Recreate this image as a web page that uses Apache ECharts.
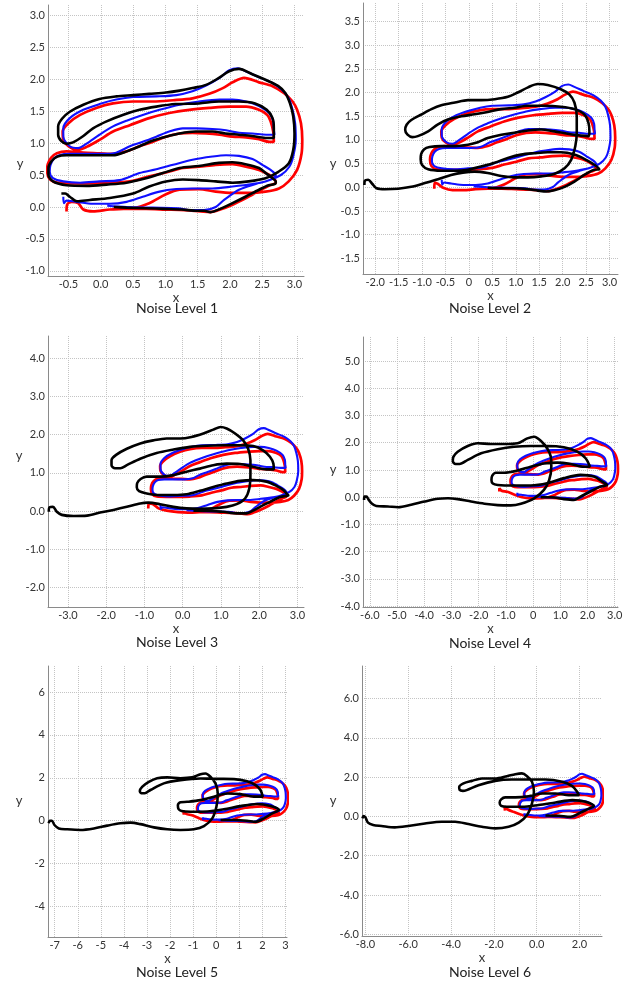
<!DOCTYPE html>
<html>
<head>
<meta charset="utf-8">
<script src="https://cdn.jsdelivr.net/npm/echarts@6/dist/echarts.min.js"></script>
<style>
html,body{margin:0;padding:0;background:#fff;}
#chart{width:635px;height:982px;}
</style>
</head>
<body>
<div id="chart"></div>
<script>
// ---------- tick values and labels ----------
const xTicks1 = [-0.5,0,0.5,1,1.5,2,2.5,3];
const xLabels1 = ['-0.5','0.0','0.5','1.0','1.5','2.0','2.5','3.0'];
const yTicks1 = [-1,-0.5,0,0.5,1,1.5,2,2.5,3];
const yLabels1 = ['-1.0','-0.5','0.0','0.5','1.0','1.5','2.0','2.5','3.0'];

const xTicks2 = [-2,-1.5,-1,-0.5,0,0.5,1,1.5,2,2.5,3];
const xLabels2 = ['-2.0','-1.5','-1.0','-0.5','0','0.5','1.0','1.5','2.0','2.5','3.0'];
const yTicks2 = [-1.5,-1,-0.5,0,0.5,1,1.5,2,2.5,3,3.5];
const yLabels2 = ['-1.5','-1.0','-0.5','0.0','0.5','1.0','1.5','2.0','2.5','3.0','3.5'];

const xTicks3 = [-3,-2,-1,0,1,2,3];
const xLabels3 = ['-3.0','-2.0','-1.0','0.0','1.0','2.0','3.0'];
const yTicks3 = [-2,-1,0,1,2,3,4];
const yLabels3 = ['-2.0','-1.0','0.0','1.0','2.0','3.0','4.0'];

const xTicks4 = [-6,-5,-4,-3,-2,-1,0,1,2,3];
const xLabels4 = ['-6.0','-5.0','-4.0','-3.0','-2.0','-1.0','0','1.0','2.0','3.0'];
const yTicks4 = [-4,-3,-2,-1,0,1,2,3,4,5];
const yLabels4 = ['-4.0','-3.0','-2.0','-1.0','0.0','1.0','2.0','3.0','4.0','5.0'];

const xTicks5 = [-7,-6,-5,-4,-3,-2,-1,0,1,2,3];
const xLabels5 = ['-7','-6','-5','-4','-3','-2','-1','0','1','2','3'];
const yTicks5 = [-4,-2,0,2,4,6];
const yLabels5 = ['-4','-2','0','2','4','6'];

const xTicks6 = [-8,-6,-4,-2,0,2];
const xLabels6 = ['-8.0','-6.0','-4.0','-2.0','0.0','2.0'];
const yTicks6 = [-6,-4,-2,0,2,4,6];
const yLabels6 = ['-6.0','-4.0','-2.0','0.0','2.0','4.0','6.0'];

const titles = ['Noise Level 1','Noise Level 2','Noise Level 3','Noise Level 4','Noise Level 5','Noise Level 6'];

// ---------- blue trajectory (shared) ----------
const blueTrack = [
[-0.58,0.16],[-0.57,0.06],[-0.53,0.1],[-0.38,0.08],[-0.12,0.05],[0.14,0.05],[0.4,0.08],[0.65,0.16],[0.91,0.24],[1.17,0.28],[1.42,0.29],[1.73,0.29],[2.04,0.32],[2.35,0.36],[2.55,0.4],[2.79,0.5],[2.92,0.63],[2.98,0.79],[3.02,1.05],[3.01,1.31],[2.97,1.52],[2.91,1.7],[2.81,1.83],[2.66,1.94],[2.45,2.03],[2.25,2.12],[2.12,2.17],[1.99,2.14],[1.84,2.02],[1.63,1.9],[1.42,1.81],[1.17,1.75],[0.86,1.73],[0.5,1.72],[0.24,1.68],[-0.02,1.61],[-0.27,1.52],[-0.48,1.39],[-0.58,1.23],[-0.58,1.1],[-0.48,0.95],[-0.35,0.92],[-0.22,0.99],[-0.02,1.13],[0.19,1.26],[0.4,1.35],[0.65,1.44],[0.91,1.52],[1.22,1.6],[1.52,1.65],[1.84,1.68],[2.04,1.68],[2.25,1.65],[2.45,1.58],[2.61,1.47],[2.67,1.34],[2.68,1.21],[2.69,1.13],[2.56,1.13],[2.35,1.15],[2.14,1.16],[1.94,1.2],[1.73,1.22],[1.48,1.23],[1.27,1.23],[1.06,1.18],[0.86,1.1],[0.65,1.02],[0.45,0.95],[0.24,0.85],[0.04,0.83],[-0.22,0.83],[-0.48,0.83],[-0.64,0.81],[-0.73,0.75],[-0.78,0.65],[-0.79,0.55],[-0.74,0.45],[-0.58,0.4],[-0.32,0.38],[-0.02,0.4],[0.29,0.42],[0.6,0.53],[0.86,0.59],[1.12,0.66],[1.42,0.74],[1.73,0.79],[1.94,0.81],[2.14,0.8],[2.35,0.75],[2.5,0.66],[2.63,0.58],[2.71,0.5],[2.61,0.42],[2.4,0.36],[2.14,0.27],[1.91,0.11],[1.78,0.0],[1.6,-0.05],[1.4,-0.05],[1.2,-0.02],[0.8,-0.01],[0.4,0.0],[0.1,0.02]
];

// ---------- red trajectory: per-panel start + shared loop ----------
const redStart1 = [[-0.53,-0.07],[-0.52,0.04],[-0.45,0.08],[-0.35,0.06],[-0.27,-0.04],[-0.12,-0.07]];
const redStart2 = [[-0.74,-0.03],[-0.73,0.1],[-0.66,0.07],[-0.55,-0.01],[-0.35,-0.06],[-0.12,-0.06]];
const redStart3 = [[-0.9,0.07],[-0.88,0.2],[-0.77,0.18],[-0.63,0.07],[-0.42,0.01],[-0.12,-0.03]];
const redStart4 = [[-1.24,0.21],[-1.24,0.33],[-1.16,0.24],[-0.95,0.2],[-0.7,0.1],[-0.4,0.0],[-0.1,-0.04]];
const redStart5 = [[-1.4,0.28],[-1.42,0.45],[-1.3,0.32],[-1.05,0.25],[-0.75,0.12],[-0.4,0.0],[-0.1,-0.04]];
const redStart6 = [[-1.48,0.3],[-1.5,0.5],[-1.35,0.35],[-1.05,0.22],[-0.75,0.1],[-0.4,0.0],[-0.1,-0.04]];
const redLoop = [
[0.14,-0.04],[0.5,-0.02],[0.75,0.06],[1.01,0.2],[1.22,0.27],[1.52,0.28],[1.78,0.24],[2.04,0.22],[2.29,0.22],[2.55,0.24],[2.76,0.29],[2.91,0.4],[3.04,0.58],[3.11,0.84],[3.12,1.05],[3.1,1.31],[3.04,1.52],[2.97,1.65],[2.84,1.78],[2.66,1.89],[2.45,1.95],[2.22,2.02],[2.04,1.95],[1.89,1.86],[1.68,1.77],[1.42,1.7],[1.12,1.67],[0.81,1.65],[0.5,1.65],[0.19,1.62],[-0.07,1.55],[-0.32,1.44],[-0.5,1.31],[-0.59,1.18],[-0.58,1.05],[-0.5,0.95],[-0.37,0.89],[-0.22,0.94],[-0.02,1.05],[0.19,1.18],[0.45,1.28],[0.75,1.39],[1.06,1.47],[1.37,1.52],[1.68,1.55],[1.99,1.57],[2.25,1.57],[2.45,1.52],[2.58,1.44],[2.63,1.34],[2.67,1.18],[2.68,1.02],[2.61,1.02],[2.45,1.06],[2.25,1.09],[2.04,1.1],[1.84,1.13],[1.63,1.15],[1.42,1.16],[1.22,1.15],[1.01,1.1],[0.81,1.02],[0.6,0.95],[0.4,0.87],[0.19,0.83],[-0.02,0.84],[-0.27,0.85],[-0.53,0.87],[-0.68,0.84],[-0.77,0.77],[-0.82,0.67],[-0.83,0.58],[-0.8,0.45],[-0.68,0.38],[-0.43,0.37],[-0.12,0.37],[0.19,0.38],[0.5,0.41],[0.75,0.48],[1.01,0.54],[1.27,0.61],[1.52,0.63],[1.78,0.66],[2.04,0.67],[2.25,0.63],[2.45,0.58],[2.61,0.5],[2.7,0.42],[2.71,0.38],[2.6,0.33],[2.45,0.25],[2.25,0.14],[2.05,0.04],[1.85,-0.04],[1.7,-0.08],[1.55,-0.07],[1.3,-0.05],[1.0,-0.04],[0.7,-0.03],[0.4,-0.03]
];

// ---------- black trajectory per panel ----------
const black1 = [
[-0.61,0.21],[-0.55,0.21],[-0.48,0.16],[-0.37,0.09],[-0.17,0.11],[0.14,0.14],[0.5,0.21],[0.75,0.32],[1.01,0.40],[1.27,0.43],[1.52,0.42],[1.78,0.40],[2.04,0.38],[2.29,0.40],[2.55,0.45],[2.75,0.55],[2.91,0.68],[2.98,0.89],[3.0,1.15],[2.98,1.42],[2.93,1.62],[2.86,1.78],[2.75,1.89],[2.55,1.99],[2.34,2.08],[2.14,2.16],[1.98,2.12],[1.83,2.02],[1.63,1.91],[1.42,1.86],[1.22,1.82],[1.01,1.79],[0.75,1.77],[0.5,1.75],[0.24,1.73],[-0.02,1.69],[-0.27,1.6],[-0.48,1.49],[-0.6,1.38],[-0.66,1.26],[-0.66,1.13],[-0.61,1.03],[-0.53,0.99],[-0.43,1.01],[-0.27,1.11],[-0.12,1.23],[0.09,1.34],[0.34,1.44],[0.6,1.52],[0.86,1.57],[1.16,1.61],[1.52,1.62],[1.83,1.65],[2.14,1.65],[2.39,1.62],[2.57,1.52],[2.66,1.39],[2.68,1.23],[2.68,1.08],[2.55,1.08],[2.34,1.11],[2.14,1.13],[1.93,1.15],[1.73,1.18],[1.47,1.18],[1.22,1.15],[1.01,1.1],[0.81,1.04],[0.6,0.95],[0.4,0.87],[0.19,0.81],[-0.02,0.81],[-0.27,0.81],[-0.53,0.81],[-0.67,0.79],[-0.76,0.72],[-0.81,0.61],[-0.81,0.5],[-0.74,0.4],[-0.53,0.34],[-0.22,0.33],[0.09,0.35],[0.4,0.38],[0.7,0.45],[0.96,0.53],[1.22,0.61],[1.52,0.64],[1.83,0.69],[2.04,0.70],[2.24,0.67],[2.45,0.61],[2.57,0.52],[2.66,0.45],[2.71,0.40],[2.7,0.36],[2.6,0.34],[2.45,0.27],[2.24,0.16],[2.04,0.06],[1.85,-0.03],[1.7,-0.08],[1.6,-0.06],[1.5,-0.06],[1.25,-0.04],[1.0,-0.03],[0.7,-0.02],[0.4,-0.01],[0.2,0.0]
];
const black2 = [
[-2.23,0.05],[-2.22,0.14],[-2.15,0.16],[-2.06,0.07],[-1.97,-0.02],[-1.79,-0.04],[-1.51,-0.03],[-1.23,0.01],[-0.94,0.09],[-0.66,0.17],[-0.38,0.26],[-0.13,0.31],[0.12,0.33],[0.40,0.30],[0.69,0.24],[0.97,0.21],[1.26,0.21],[1.54,0.23],[1.82,0.28],[2.04,0.40],[2.18,0.58],[2.27,0.87],[2.30,1.15],[2.30,1.50],[2.25,1.79],[2.14,1.96],[1.96,2.07],[1.68,2.16],[1.47,2.18],[1.26,2.11],[1.04,2.0],[0.83,1.91],[0.55,1.86],[0.26,1.84],[-0.02,1.84],[-0.30,1.79],[-0.59,1.73],[-0.80,1.65],[-1.01,1.54],[-1.23,1.42],[-1.33,1.32],[-1.36,1.21],[-1.31,1.11],[-1.21,1.06],[-1.09,1.08],[-0.87,1.18],[-0.66,1.33],[-0.45,1.43],[-0.16,1.50],[0.12,1.54],[0.40,1.59],[0.69,1.65],[0.97,1.68],[1.26,1.72],[1.61,1.72],[1.96,1.70],[2.25,1.65],[2.46,1.54],[2.55,1.36],[2.57,1.18],[2.55,1.08],[2.39,1.09],[2.11,1.13],[1.82,1.18],[1.54,1.22],[1.26,1.20],[0.97,1.15],[0.69,1.11],[0.40,1.04],[0.19,0.95],[-0.02,0.90],[-0.30,0.87],[-0.59,0.87],[-0.84,0.85],[-0.96,0.8],[-1.02,0.7],[-1.03,0.59],[-1.0,0.47],[-0.87,0.38],[-0.59,0.35],[-0.30,0.35],[-0.02,0.37],[0.26,0.44],[0.55,0.52],[0.83,0.62],[1.11,0.69],[1.40,0.72],[1.68,0.74],[1.96,0.74],[2.25,0.69],[2.50,0.58],[2.67,0.48],[2.78,0.38],[2.67,0.37],[2.46,0.26],[2.25,0.12],[2.04,0.01],[1.82,-0.06],[1.65,-0.09],[1.47,-0.07],[1.26,-0.04],[0.97,-0.02],[0.69,-0.02],[0.40,-0.01]
];
const black3 = [
[-3.5,-0.02],[-3.48,0.1],[-3.39,0.11],[-3.29,-0.02],[-3.16,-0.1],[-2.85,-0.13],[-2.5,-0.12],[-2.16,-0.04],[-1.81,0.03],[-1.46,0.11],[-1.11,0.2],[-0.9,0.22],[-0.59,0.18],[-0.24,0.11],[0.1,0.07],[0.45,0.06],[0.8,0.07],[1.15,0.11],[1.41,0.18],[1.63,0.33],[1.74,0.59],[1.77,0.98],[1.77,1.33],[1.71,1.63],[1.58,1.85],[1.37,2.03],[1.15,2.16],[0.99,2.2],[0.8,2.13],[0.54,2.03],[0.23,1.94],[-0.07,1.9],[-0.42,1.9],[-0.77,1.85],[-1.11,1.77],[-1.46,1.63],[-1.74,1.47],[-1.86,1.33],[-1.86,1.2],[-1.77,1.12],[-1.63,1.12],[-1.46,1.2],[-1.11,1.37],[-0.68,1.52],[-0.24,1.61],[0.19,1.68],[0.63,1.71],[1.06,1.72],[1.5,1.72],[1.84,1.7],[2.1,1.59],[2.28,1.42],[2.37,1.24],[2.38,1.09],[2.19,1.09],[1.84,1.16],[1.5,1.23],[1.15,1.24],[0.8,1.2],[0.45,1.11],[0.1,1.03],[-0.24,0.94],[-0.59,0.9],[-0.94,0.9],[-1.1,0.84],[-1.19,0.73],[-1.2,0.62],[-1.14,0.52],[-0.94,0.46],[-0.59,0.42],[-0.24,0.42],[0.1,0.44],[0.45,0.53],[0.8,0.63],[1.15,0.72],[1.5,0.79],[1.84,0.81],[2.19,0.77],[2.45,0.66],[2.63,0.55],[2.73,0.44],[2.76,0.41],[2.54,0.37],[2.28,0.24],[2.02,0.11],[1.84,0.01],[1.67,-0.06],[1.41,-0.06],[1.06,-0.02],[0.63,0.01],[0.28,0.01]
];
const black4 = [
[-6.21,-0.1],[-6.2,0.02],[-6.12,0.02],[-6.05,-0.08],[-5.94,-0.22],[-5.76,-0.32],[-5.33,-0.34],[-4.96,-0.37],[-4.48,-0.28],[-3.99,-0.16],[-3.5,-0.06],[-3.13,-0.04],[-2.77,-0.07],[-2.28,-0.16],[-1.79,-0.24],[-1.3,-0.29],[-0.82,-0.3],[-0.45,-0.24],[0.04,-0.04],[0.4,0.27],[0.59,0.63],[0.67,1.12],[0.65,1.49],[0.52,1.79],[0.28,2.07],[0.04,2.22],[-0.21,2.16],[-0.57,1.98],[-1.06,1.95],[-1.55,1.95],[-2.04,1.98],[-2.4,1.88],[-2.77,1.67],[-2.93,1.48],[-2.95,1.32],[-2.85,1.22],[-2.7,1.22],[-2.4,1.37],[-1.91,1.61],[-1.3,1.76],[-0.7,1.85],[-0.09,1.88],[0.52,1.88],[1.13,1.83],[1.62,1.67],[1.93,1.43],[2.09,1.12],[1.87,1.12],[1.38,1.22],[0.89,1.27],[0.4,1.24],[-0.09,1.12],[-0.57,0.98],[-1.06,0.9],[-1.37,0.9],[-1.5,0.79],[-1.53,0.63],[-1.48,0.5],[-1.3,0.45],[-0.7,0.43],[-0.09,0.43],[0.52,0.51],[1.13,0.7],[1.74,0.82],[2.23,0.76],[2.54,0.57],[2.72,0.45],[2.48,0.39],[2.11,0.21],[1.74,0.02],[1.5,-0.1],[1.13,-0.07],[0.65,0.0],[0.28,0.0]
];
const black5 = [
[-7.26,-0.12],[-7.21,0.0],[-7.12,0.0],[-7.01,-0.2],[-6.82,-0.36],[-6.46,-0.4],[-5.88,-0.43],[-5.3,-0.36],[-4.73,-0.23],[-4.15,-0.12],[-3.71,-0.09],[-3.28,-0.16],[-2.7,-0.31],[-2.12,-0.4],[-1.55,-0.43],[-0.97,-0.4],[-0.53,-0.25],[-0.17,0.11],[0.01,0.65],[0.07,1.27],[-0.03,1.74],[-0.25,2.05],[-0.46,2.2],[-0.68,2.17],[-1.04,2.02],[-1.55,1.98],[-2.12,2.02],[-2.56,1.98],[-2.92,1.81],[-3.21,1.58],[-3.31,1.38],[-3.25,1.28],[-3.1,1.28],[-2.85,1.43],[-2.27,1.74],[-1.55,1.89],[-0.68,1.97],[0.04,1.95],[0.77,1.94],[1.34,1.84],[1.71,1.66],[1.92,1.43],[2.02,1.12],[1.63,1.12],[1.05,1.24],[0.48,1.27],[-0.1,1.12],[-0.68,0.96],[-1.26,0.88],[-1.55,0.86],[-1.66,0.72],[-1.63,0.54],[-1.5,0.45],[-1.11,0.42],[-0.39,0.43],[0.33,0.53],[1.05,0.68],[1.78,0.78],[2.36,0.68],[2.72,0.5],[2.43,0.34],[2.07,0.11],[1.71,-0.05],[1.34,0.0],[0.77,0.03],[0.19,0.03]
];
const black6 = [
[-8.14,-0.1],[-8.09,0.02],[-8.0,-0.05],[-7.88,-0.32],[-7.64,-0.44],[-7.25,-0.49],[-6.63,-0.56],[-6.0,-0.49],[-5.22,-0.36],[-4.44,-0.27],[-3.81,-0.27],[-3.19,-0.39],[-2.56,-0.53],[-1.94,-0.61],[-1.31,-0.53],[-0.84,-0.32],[-0.45,0.07],[-0.22,0.66],[-0.13,1.25],[-0.22,1.76],[-0.45,2.05],[-0.69,2.19],[-1.0,2.15],[-1.39,2.05],[-1.94,1.93],[-2.56,1.93],[-3.03,1.81],[-3.42,1.68],[-3.62,1.5],[-3.6,1.35],[-3.45,1.3],[-3.27,1.34],[-2.72,1.59],[-1.94,1.81],[-1.16,1.88],[-0.38,1.88],[0.41,1.88],[1.19,1.76],[1.66,1.54],[1.89,1.25],[1.97,1.08],[1.5,1.08],[0.88,1.17],[0.25,1.17],[-0.38,1.03],[-1.0,0.97],[-1.47,0.97],[-1.66,0.87],[-1.73,0.7],[-1.66,0.54],[-1.39,0.49],[-0.69,0.49],[0.09,0.58],[0.88,0.71],[1.66,0.83],[2.28,0.75],[2.67,0.53],[2.36,0.36],[1.97,0.15],[1.58,-0.02],[1.03,0.03],[0.41,0.05]
];

// ---------- layout ----------
const FONT = 'Lato';
const panels = [
  {grid:{left:48,top:5,width:256,height:271}, xr:[-0.817,3.147], yr:[-1.08,3.16], xT:xTicks1, xL:xLabels1, yT:yTicks1, yL:yLabels1, black:black1, red:redStart1, yPos:[20,164], tPos:[177,308]},
  {grid:{left:363,top:3,width:255,height:271}, xr:[-2.26,3.18], yr:[-1.83,3.89], xT:xTicks2, xL:xLabels2, yT:yTicks2, yL:yLabels2, black:black2, red:redStart2, yPos:[333,164], tPos:[490,308]},
  {grid:{left:48,top:336,width:256,height:271}, xr:[-3.52,3.17], yr:[-2.51,4.58], xT:xTicks3, xL:xLabels3, yT:yTicks3, yL:yLabels3, black:black3, red:redStart3, yPos:[19,456], tPos:[177,642]},
  {grid:{left:363,top:337,width:255,height:270}, xr:[-6.25,3.12], yr:[-4.03,5.88], xT:xTicks4, xL:xLabels4, yT:yTicks4, yL:yLabels4, black:black4, red:redStart4, yPos:[333,470], tPos:[490,643]},
  {grid:{left:48,top:666,width:239,height:271}, xr:[-7.29,3.07], yr:[-5.42,7.21], xT:xTicks5, xL:xLabels5, yT:yTicks5, yL:yLabels5, black:black5, red:redStart5, yPos:[19,801], tPos:[177,972]},
  {grid:{left:362,top:666,width:240,height:270}, xr:[-8.16,3.05], yr:[-6.09,7.66], xT:xTicks6, xL:xLabels6, yT:yTicks6, yL:yLabels6, black:black6, red:redStart6, yPos:[333,801], tPos:[490,972]}
];

function fmt(ticks, labels){
  return function(v){
    for (let i=0;i<ticks.length;i++){ if (Math.abs(ticks[i]-v)<1e-9) return labels[i]; }
    return '';
  };
}

const grids=[], xAxes=[], yAxes=[], series=[], graphics=[];
panels.forEach((p,i)=>{
  grids.push(Object.assign({containLabel:false}, p.grid));
  const common = {
    type:'value', gridIndex:i,
    axisLine:{show:true,onZero:false,lineStyle:{color:'#8a8a8a',width:1}},
    splitLine:{show:true,lineStyle:{type:'dotted',color:'#c4c4c4',width:1}},
  };
  xAxes.push(Object.assign({}, common, {
    min:p.xr[0], max:p.xr[1],
    axisTick:{show:false, customValues:p.xT},
    axisLabel:{customValues:p.xT, formatter:fmt(p.xT,p.xL), fontSize:11, color:'#333', margin:3, fontFamily:FONT},
    name:'x', nameLocation:'middle', nameGap:8,
    nameTextStyle:{fontSize:13, color:'#333', fontFamily:FONT}
  }));
  yAxes.push(Object.assign({}, common, {
    min:p.yr[0], max:p.yr[1],
    axisTick:{show:false, customValues:p.yT},
    axisLabel:{customValues:p.yT, formatter:fmt(p.yT,p.yL), fontSize:11, color:'#333', margin:3, fontFamily:FONT}
  }));
  series.push({type:'line', xAxisIndex:i, yAxisIndex:i, data:p.red.concat(redLoop), symbol:'none', smooth:0.3,
    lineStyle:{color:'#ff0000', width:2.7}, z:2});
  series.push({type:'line', xAxisIndex:i, yAxisIndex:i, data:blueTrack, symbol:'none', smooth:0.3,
    lineStyle:{color:'#1010ff', width:2.1}, z:3});
  series.push({type:'line', xAxisIndex:i, yAxisIndex:i, data:p.black, symbol:'none', smooth:0.3,
    lineStyle:{color:'#000000', width:2.6}, z:4});
  graphics.push({type:'text', x:p.yPos[0], y:p.yPos[1], style:{text:'y', align:'center', verticalAlign:'middle', fontSize:13, fontFamily:FONT, fill:'#333'}});
  graphics.push({type:'text', x:p.tPos[0], y:p.tPos[1], style:{text:titles[i], align:'center', verticalAlign:'middle', fontSize:14, fontFamily:FONT, fill:'#222'}});
});

const chart = echarts.init(document.getElementById('chart'), null, {renderer:'canvas'});
chart.setOption({
  animation:false,
  backgroundColor:'#ffffff',
  grid:grids, xAxis:xAxes, yAxis:yAxes, series:series, graphic:graphics
});
</script>
</body>
</html>
